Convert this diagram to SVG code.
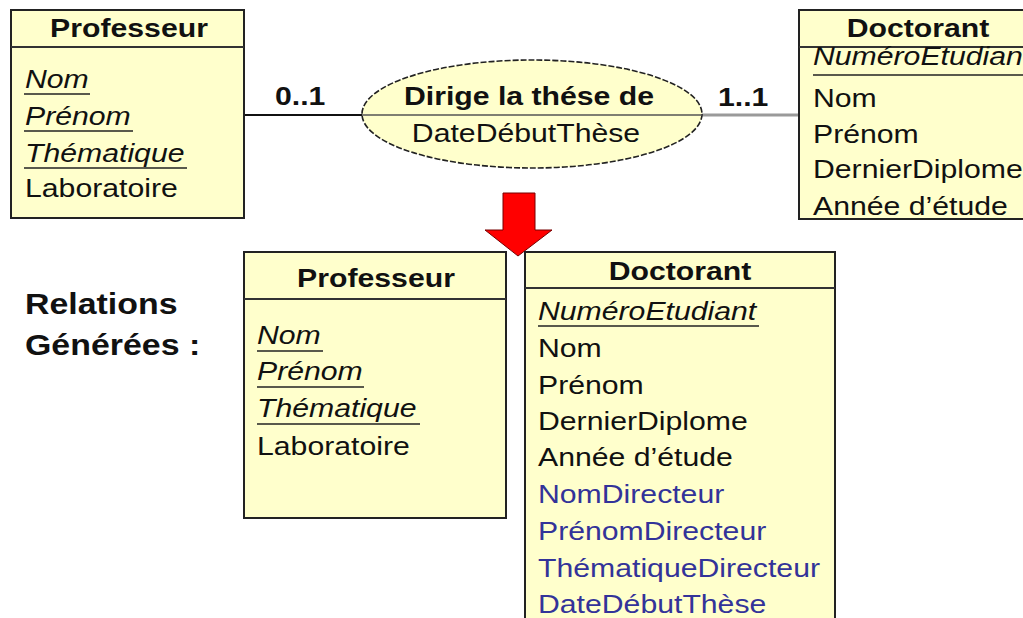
<svg xmlns="http://www.w3.org/2000/svg" width="1023" height="618" viewBox="0 0 1023 618">
  <style>
    .box{fill:#ffffcc;stroke:#222;stroke-width:2}
    .sep{stroke:#333;stroke-width:2}
    .t{font-family:"Liberation Sans",Arial,Helvetica,sans-serif;font-size:26.5px;fill:#111}
    .b{font-weight:bold}
    .i{font-style:italic}
    .m{text-anchor:middle}
    .blue{fill:#333399}
    .ul{stroke:#222;stroke-width:1.6}
    .cap{font-size:30px}
  </style>
  <rect width="1023" height="618" fill="#ffffff"/>

  <!-- connectors -->
  <g id="connectors">
    <line x1="244" y1="115" x2="362" y2="115" stroke="#111" stroke-width="1.8"/>
    <line x1="702" y1="115" x2="799" y2="115" stroke="#9a9a9a" stroke-width="3"/>
    <text class="t b" transform="matrix(1.14 0 0 1 275 105)">0..1</text>
    <text class="t b" transform="matrix(1.14 0 0 1 718 106)">1..1</text>
  </g>

  <!-- conceptual entity: Professeur -->
  <g id="professeur-entity">
    <rect class="box" x="11" y="10" width="233" height="208"/>
    <line class="sep" x1="11" y1="47" x2="244" y2="47"/>
    <text class="t b m" transform="matrix(1.14 0 0 1 129 37)">Professeur</text>
    <text class="t i" transform="matrix(1.14 0 0 1 25 88)">Nom</text>
    <line class="ul" x1="24" y1="94" x2="90" y2="94"/>
    <text class="t i" transform="matrix(1.14 0 0 1 25 125)">Prénom</text>
    <line class="ul" x1="24" y1="131" x2="133" y2="131"/>
    <text class="t i" transform="matrix(1.14 0 0 1 25 162)">Thématique</text>
    <line class="ul" x1="24" y1="168" x2="187" y2="168"/>
    <text class="t" transform="matrix(1.14 0 0 1 25 197)">Laboratoire</text>
  </g>

  <!-- association -->
  <g id="dirige-association">
    <ellipse cx="532" cy="114" rx="170" ry="54" fill="#ffffcc" stroke="#222" stroke-width="1.6" stroke-dasharray="6 2"/>
    <line x1="362" y1="115" x2="702" y2="115" stroke="#555" stroke-width="1.4"/>
    <text class="t b m" transform="matrix(1.14 0 0 1 529 105)">Dirige la thése de</text>
    <text class="t m" transform="matrix(1.14 0 0 1 526 142)">DateDébutThèse</text>
  </g>

  <!-- conceptual entity: Doctorant (runs past the right edge) -->
  <g id="doctorant-entity">
    <rect class="box" x="799" y="10" width="260" height="209"/>
    <line class="sep" x1="799" y1="47" x2="1059" y2="47"/>
    <text class="t b m" transform="matrix(1.14 0 0 1 918 37)">Doctorant</text>
    <text class="t i" transform="matrix(1.14 0 0 1 813 65)">NuméroEtudiant</text>
    <line class="ul" x1="813" y1="75" x2="1040" y2="75"/>
    <text class="t" transform="matrix(1.14 0 0 1 813 107)">Nom</text>
    <text class="t" transform="matrix(1.14 0 0 1 813 143)">Prénom</text>
    <text class="t" transform="matrix(1.14 0 0 1 813 178)">DernierDiplome</text>
    <text class="t" transform="matrix(1.14 0 0 1 813 215)">Année d’étude</text>
  </g>

  <!-- transformation arrow -->
  <g id="arrow">
    <polygon points="503,193 535,193 535,230 552,230 518,256 485,230 503,230" fill="#ff0000" stroke="#700" stroke-width="1"/>
  </g>

  <g id="caption">
    <text class="t b cap" transform="matrix(1.13 0 0 1 25 314)">Relations</text>
    <text class="t b cap" transform="matrix(1.13 0 0 1 25 355)">Générées :</text>
  </g>

  <!-- relation: Professeur -->
  <g id="professeur-relation">
    <rect class="box" x="244" y="252" width="262" height="266"/>
    <line class="sep" x1="244" y1="299" x2="506" y2="299"/>
    <text class="t b m" transform="matrix(1.14 0 0 1 376 287)">Professeur</text>
    <text class="t i" transform="matrix(1.14 0 0 1 257 344)">Nom</text>
    <line class="ul" x1="257" y1="351" x2="323" y2="351"/>
    <text class="t i" transform="matrix(1.14 0 0 1 257 380)">Prénom</text>
    <line class="ul" x1="257" y1="387" x2="364" y2="387"/>
    <text class="t i" transform="matrix(1.14 0 0 1 257 417)">Thématique</text>
    <line class="ul" x1="257" y1="424" x2="420" y2="424"/>
    <text class="t" transform="matrix(1.14 0 0 1 257 455)">Laboratoire</text>
  </g>

  <!-- relation: Doctorant (runs past the bottom edge) -->
  <g id="doctorant-relation">
    <rect class="box" x="525" y="252" width="310" height="400"/>
    <line class="sep" x1="525" y1="288" x2="835" y2="288"/>
    <text class="t b m" transform="matrix(1.14 0 0 1 680 280)">Doctorant</text>
    <text class="t i" transform="matrix(1.14 0 0 1 538 320)">NuméroEtudiant</text>
    <line class="ul" x1="538" y1="326" x2="759" y2="326"/>
    <text class="t" transform="matrix(1.14 0 0 1 538 357)">Nom</text>
    <text class="t" transform="matrix(1.14 0 0 1 538 394)">Prénom</text>
    <text class="t" transform="matrix(1.14 0 0 1 538 430)">DernierDiplome</text>
    <text class="t" transform="matrix(1.14 0 0 1 538 466)">Année d’étude</text>
    <text class="t blue" transform="matrix(1.14 0 0 1 538 503)">NomDirecteur</text>
    <text class="t blue" transform="matrix(1.14 0 0 1 538 540)">PrénomDirecteur</text>
    <text class="t blue" transform="matrix(1.14 0 0 1 538 577)">ThématiqueDirecteur</text>
    <text class="t blue" transform="matrix(1.14 0 0 1 538 613)">DateDébutThèse</text>
  </g>
</svg>
